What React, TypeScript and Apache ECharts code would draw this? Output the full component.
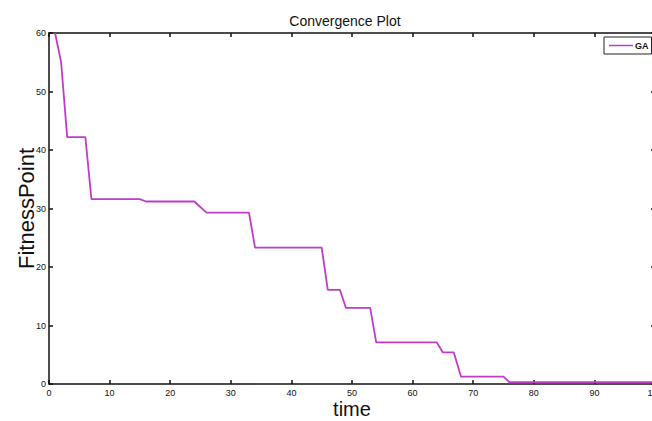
import React, { useEffect, useRef } from "react";
import * as echarts from "echarts";

const timeValues = [1, 2, 3, 6, 7, 15, 16, 24, 24.6, 26, 33, 34, 45, 46, 48, 49, 53, 54, 64, 65, 66.8, 68, 75, 76, 100];
const fitnessValues = [60, 55, 42.2, 42.2, 31.6, 31.6, 31.2, 31.2, 30.6, 29.3, 29.3, 23.3, 23.3, 16.1, 16.1, 13, 13, 7.1, 7.1, 5.4, 5.4, 1.25, 1.25, 0.3, 0.3];
const seriesName = "GA";
const xTicks = [0, 10, 20, 30, 40, 50, 60, 70, 80, 90, 100];
const yTicks = [0, 10, 20, 30, 40, 50, 60];

export default function App() {
  const ref = useRef<HTMLDivElement>(null);
  useEffect(() => {
    if (!ref.current) return;
    const chart = echarts.init(ref.current, null, { renderer: "svg" });
    const tickFont = "'Liberation Sans Narrow', 'Arial Narrow', 'Liberation Sans', sans-serif";
    const axisLine = { show: true, onZero: false, lineStyle: { color: "#111", width: 1.5 } };
    const axisTick = { show: true, inside: true, length: 4, lineStyle: { color: "#111", width: 1.5 } };
    chart.setOption({
      animation: false,
      backgroundColor: "#fff",
      title: {
        text: "Convergence Plot",
        left: 340,
        textAlign: "center",
        top: 9,
        textStyle: { fontFamily: "'Liberation Sans', Arial, sans-serif", fontSize: 14, fontWeight: "normal", color: "#111" },
      },
      legend: {
        data: [seriesName],
        left: 604,
        top: 37,
        orient: "vertical",
        borderColor: "#222",
        borderWidth: 1,
        borderRadius: 0,
        padding: [4, 3, 4, 5],
        itemWidth: 24,
        itemHeight: 1.5,
        itemGap: 0,
        icon: "rect",
        textStyle: { fontFamily: tickFont, fontSize: 9, fontWeight: "bold", color: "#111", padding: [0, 0, 0, -3] },
      },
      grid: { left: 49, top: 33, width: 606, height: 351, containLabel: false, outerBoundsMode: "none" },
      xAxis: [
        {
          type: "value",
          min: 0,
          max: 100,
          interval: 10,
          name: "time",
          nameLocation: "middle",
          nameGap: 15,
          nameMoveOverlap: false,
          nameTextStyle: { fontFamily: "'Liberation Sans', Arial, sans-serif", fontSize: 20, color: "#111" },
          axisLine,
          axisTick,
          splitLine: { show: false },
          axisLabel: {
            margin: 4,
            fontFamily: tickFont,
            fontSize: 9,
            color: "#111",
            customValues: xTicks,
          },
        },
        {
          type: "value",
          position: "top",
          min: 0,
          max: 100,
          interval: 10,
          axisLine,
          axisTick,
          splitLine: { show: false },
          axisLabel: { show: false },
        },
      ],
      yAxis: [
        {
          type: "value",
          min: 0,
          max: 60,
          interval: 10,
          name: "FitnessPoint",
          nameLocation: "middle",
          nameGap: 12,
          nameMoveOverlap: false,
          nameTextStyle: { fontFamily: "'Liberation Sans', Arial, sans-serif", fontSize: 22, color: "#111" },
          axisLine,
          axisTick,
          splitLine: { show: false },
          axisLabel: {
            margin: 3,
            fontFamily: tickFont,
            fontSize: 9,
            color: "#111",
            customValues: yTicks,
          },
        },
        {
          type: "value",
          position: "right",
          min: 0,
          max: 60,
          interval: 10,
          axisLine,
          axisTick,
          splitLine: { show: false },
          axisLabel: { show: false },
        },
      ],
      series: [
        {
          name: seriesName,
          type: "line",
          xAxisIndex: 0,
          yAxisIndex: 0,
          data: timeValues.map((t, i) => [t, fitnessValues[i]]),
          showSymbol: false,
          symbol: "none",
          itemStyle: { color: "#c03cc8" },
          lineStyle: { color: "#c03cc8", width: 1.8 },
        },
      ],
    });
    return () => chart.dispose();
  }, []);
  return (
    <div
      ref={ref}
      style={{ position: "fixed", left: 0, top: 0, width: 652, height: 421, background: "#fff" }}
    />
  );
}
